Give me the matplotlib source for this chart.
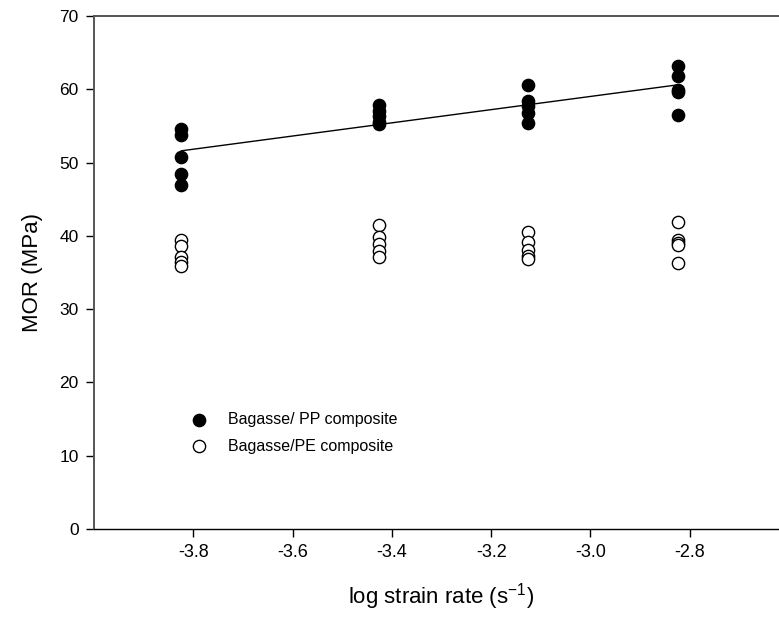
import numpy as np
import matplotlib
matplotlib.use("Agg")
import matplotlib.pyplot as plt

plt.rcParams['font.family'] = ['Liberation Sans', 'DejaVu Sans']
narrow = ['Liberation Sans Narrow', 'Liberation Sans', 'DejaVu Sans']

# log strain rate groups
log_rates = [-3.824, -3.426, -3.125, -2.824]

# MOR values (MPa), one list per strain rate
pp_mor = [
    [54.6, 53.8, 50.8, 48.4, 46.9],
    [57.9, 57.1, 56.3, 55.6, 55.2],
    [60.6, 58.4, 57.7, 56.8, 55.4],
    [63.2, 61.8, 59.9, 59.6, 56.5],
]
pe_mor = [
    [39.4, 38.6, 37.1, 36.4, 35.9],
    [41.5, 39.8, 38.9, 37.9, 37.1],
    [40.5, 39.2, 38.1, 37.3, 36.8],
    [41.9, 39.5, 39.0, 38.8, 36.3],
]

x_ticks = [-3.8, -3.6, -3.4, -3.2, -3.0, -2.8]
y_ticks = [0, 10, 20, 30, 40, 50, 60, 70]

W, H = 779, 619
fig = plt.figure(figsize=(W / 100, H / 100), dpi=100)
ax = fig.add_axes([94 / W, 1 - 529 / H, (789 - 94) / W, 513 / H])

pp_x = np.repeat(log_rates, [len(v) for v in pp_mor])
pp_y = np.concatenate(pp_mor)
pe_x = np.repeat(log_rates, [len(v) for v in pe_mor])
pe_y = np.concatenate(pe_mor)

ax.scatter(pp_x, pp_y, s=78, c='black', edgecolors='black', linewidths=1,
           label='Bagasse/ PP composite', zorder=3)
ax.scatter(pe_x, pe_y, s=78, facecolors='white', edgecolors='black', linewidths=1,
           label='Bagasse/PE composite', zorder=3)

# linear regression for the PP composite
k, b = np.polyfit(pp_x, pp_y, 1)
xl = np.array([log_rates[0], log_rates[-1]])
ax.plot(xl, k * xl + b, color='black', lw=1, zorder=2)

ax.set_xlim(-4.0, -2.6)
ax.set_ylim(0, 70)
ax.set_xticks(x_ticks)
ax.set_xticklabels([f"{t:.1f}" for t in x_ticks], family=narrow, fontsize=13)
ax.set_yticks(y_ticks)

ax.spines['right'].set_visible(False)
ax.spines['left'].set_color('#555555')
ax.spines['left'].set_linewidth(1.4)
ax.spines['top'].set_color('#555555')
ax.spines['top'].set_linewidth(1.4)
ax.spines['bottom'].set_linewidth(1.0)

ax.tick_params(direction='out', length=6, width=1, pad=5)
ax.tick_params(axis='y', labelsize=12.5)

ax.set_xlabel('log strain rate (s$^{\\mathregular{-1}}$)', fontsize=16,
              family=narrow, labelpad=14)
ax.set_ylabel('MOR (MPa)', fontsize=16, labelpad=12)

ax.legend(loc='center left', bbox_to_anchor=(0.14, 0.187), frameon=False,
          fontsize=11.5, handlelength=1.0, handletextpad=1.3, labelspacing=0.7,
          borderpad=0, borderaxespad=0, scatterpoints=1)

fig.savefig('out.png', dpi=100)
